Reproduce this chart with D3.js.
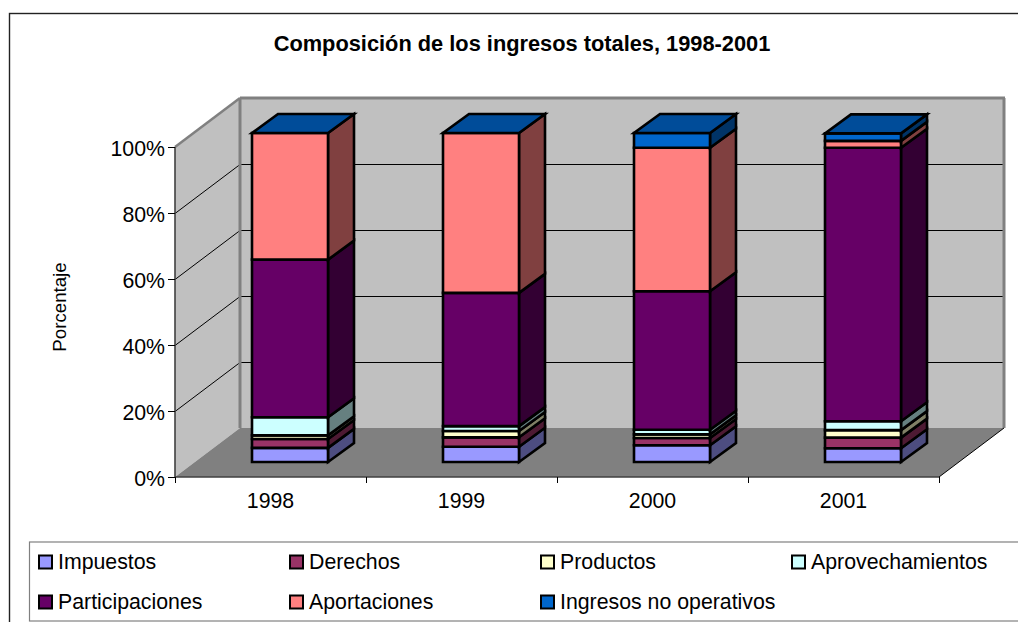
<!DOCTYPE html>
<html><head><meta charset="utf-8">
<style>html,body{margin:0;padding:0;background:#fff}svg{display:block}text{font-family:"Liberation Sans",Arial,sans-serif;fill:#000}</style>
<script src="https://cdn.jsdelivr.net/npm/d3@7/dist/d3.min.js"></script>
</head><body><svg id="c" width="1018" height="622"></svg>
<script>
const titleText = "Composición de los ingresos totales, 1998-2001";
const yLabel = "Porcentaje";
const years = ["1998","1999","2000","2001"];
const seriesNames = ["Impuestos","Derechos","Productos","Aprovechamientos","Participaciones","Aportaciones","Ingresos no operativos"];
const seriesColors = ["#9999ff","#993366","#ffffcc","#ccffff","#660066","#ff8080","#0066cc"];
const impuestos = [4.3,4.65,5.1,4.2];
const derechos = [2.7,2.85,2.2,3.2];
const productos = [1.1,1.9,1.1,2.3];
const aprovechamientos = [5.5,1.5,1.4,2.7];
const participaciones = [47.9,40.5,42.1,83.1];
const aportaciones = [38.5,48.6,43.6,2.1];
const ingresosNoOperativos = [0,0,4.5,2.3];
const seriesValues = [impuestos,derechos,productos,aprovechamientos,participaciones,aportaciones,ingresosNoOperativos];
const yTicks = [0,20,40,60,80,100];
const topFaceColor = "#004c99";

const svg = d3.select("#c");
const axisL=175, axisR=939, axisB=477, axisT=147;
const depthX=65, depthY=49;
const barFrontX=20, barFrontY=15;
const barDX=26, barDY=19;
const barStroke=2.6;

const x = d3.scaleBand().domain(years).range([axisL,axisR]);
const y = d3.scaleLinear().domain([0,100]).range([axisB,axisT]);
const barW = 76;
const barH = 329/330;

const poly = (g,pts,fill,stroke,sw)=>g.append("polygon").attr("points",pts.map(p=>p.join(",")).join(" "))
  .attr("fill",fill).attr("stroke",stroke).attr("stroke-width",sw).attr("stroke-linejoin","miter");
const line = (g,x1,y1,x2,y2,stroke,sw)=>g.append("line").attr("x1",x1).attr("y1",y1).attr("x2",x2).attr("y2",y2).attr("stroke",stroke).attr("stroke-width",sw);

// outer frame
svg.append("rect").attr("x",9.5).attr("y",13.5).attr("width",1020).attr("height",640).attr("fill","#fff").attr("stroke","#222").attr("stroke-width",1.4);

// title
svg.append("text").attr("x",522).attr("y",51).attr("text-anchor","middle").attr("font-size",21.8).attr("font-weight","bold").text(titleText);

// walls & floor
const walls = svg.append("g");
poly(walls,[[axisL,axisT],[axisL+depthX,axisT-depthY],[axisL+depthX,axisB-depthY],[axisL,axisB]],"#c0c0c0","none",0);
poly(walls,[[axisL+depthX,axisT-depthY],[axisR+depthX-1,axisT-depthY],[axisR+depthX-1,axisB-depthY],[axisL+depthX,axisB-depthY]],"#c0c0c0","none",0);
poly(walls,[[axisL,axisB],[axisR,axisB],[axisR+depthX,axisB-depthY],[axisL+depthX,axisB-depthY]],"#808080","none",0);

// gridlines (half-pixel offset keeps the 1px lines crisp)
yTicks.filter(t=>t>0&&t<100).forEach(t=>{
  line(walls,axisL,y(t)+0.5,axisL+depthX,y(t)-depthY+0.5,"#000",1);
  line(walls,axisL+depthX,y(t)-depthY+0.5,axisR+depthX-1,y(t)-depthY+0.5,"#000",1);
});
// wall edges
const edge="#808080";
line(walls,axisL+depthX,axisT-depthY,axisL+depthX,axisB-depthY,edge,3);
line(walls,axisL,axisT,axisL+depthX,axisT-depthY,edge,2.5);
line(walls,axisL+depthX,axisT-depthY,axisR+depthX+1,axisT-depthY,edge,3);
line(walls,axisR+depthX,axisT-depthY,axisR+depthX,axisB-depthY,edge,3);
line(walls,axisR,axisB,axisR+depthX,axisB-depthY,"#000",1);

// bars
const table = years.map((yr,i)=>{const o={year:yr};seriesNames.forEach((n,s)=>o[n]=seriesValues[s][i]);return o;});
const stacked = d3.stack().keys(seriesNames)(table);
const shade = c=>{const r=d3.rgb(c);return d3.rgb(r.r/2,r.g/2,r.b/2).formatHex();};
const bars = svg.append("g");
const yb = v => axisB-barFrontY-(axisB-y(v))*barH;
years.forEach((yr,i)=>{
  const g = bars.append("g");
  const x0 = x(yr)+(x.bandwidth()-barW)/2+barFrontX-0.5, x1=x0+barW;
  stacked.forEach((layer,s)=>{
    const [a,b]=layer[i];
    if(b-a<=0) return;
    const ya=yb(a), yt=yb(b);
    poly(g,[[x1,ya],[x1+barDX,ya-barDY],[x1+barDX,yt-barDY],[x1,yt]],shade(seriesColors[s]),"#000",barStroke);
    poly(g,[[x0,ya],[x1,ya],[x1,yt],[x0,yt]],seriesColors[s],"#000",barStroke);
  });
  const top = yb(d3.sum(seriesValues,v=>v[i]));
  poly(g,[[x0,top],[x1,top],[x1+barDX,top-barDY],[x0+barDX,top-barDY]],topFaceColor,"#000",barStroke);
});

// axes
const axG = svg.append("g");
line(axG,axisL,axisT,axisL,axisB,"#404040",1.6);
line(axG,axisL,axisB,axisR,axisB,"#404040",1.6);
yTicks.forEach(t=>{
  line(axG,axisL-7,y(t)+0.5,axisL,y(t)+0.5,"#000",1);
  axG.append("text").attr("x",axisL-10).attr("y",y(t)+9).attr("text-anchor","end").attr("font-size",21.3).text(t+"%");
});
years.concat([null]).forEach(yr=>{
  const px = yr? x(yr): axisR;
  line(axG,px+0.5,axisB,px+0.5,axisB+6,"#000",1);
});
years.forEach(yr=>{
  axG.append("text").attr("x",x(yr)+x.bandwidth()/2).attr("y",508).attr("text-anchor","middle").attr("font-size",21.3).text(yr);
});
svg.append("text").attr("transform","translate(66,307) rotate(-90)").attr("text-anchor","middle").attr("font-size",18.7).text(yLabel);

// legend
svg.append("rect").attr("x",29.5).attr("y",542).attr("width",1000).attr("height",79).attr("fill","#fff").attr("stroke","#808080").attr("stroke-width",1.2);
const legX=[39,290,541,792], legY=[562,602];
seriesNames.forEach((n,i)=>{
  const lx=legX[i%4], ly=legY[Math.floor(i/4)];
  svg.append("rect").attr("x",lx).attr("y",ly-6.5).attr("width",13).attr("height",13).attr("fill",seriesColors[i]).attr("stroke","#000").attr("stroke-width",2);
  svg.append("text").attr("x",lx+19).attr("y",ly+7.3).attr("font-size",21.3).text(n);
});
</script></body></html>
